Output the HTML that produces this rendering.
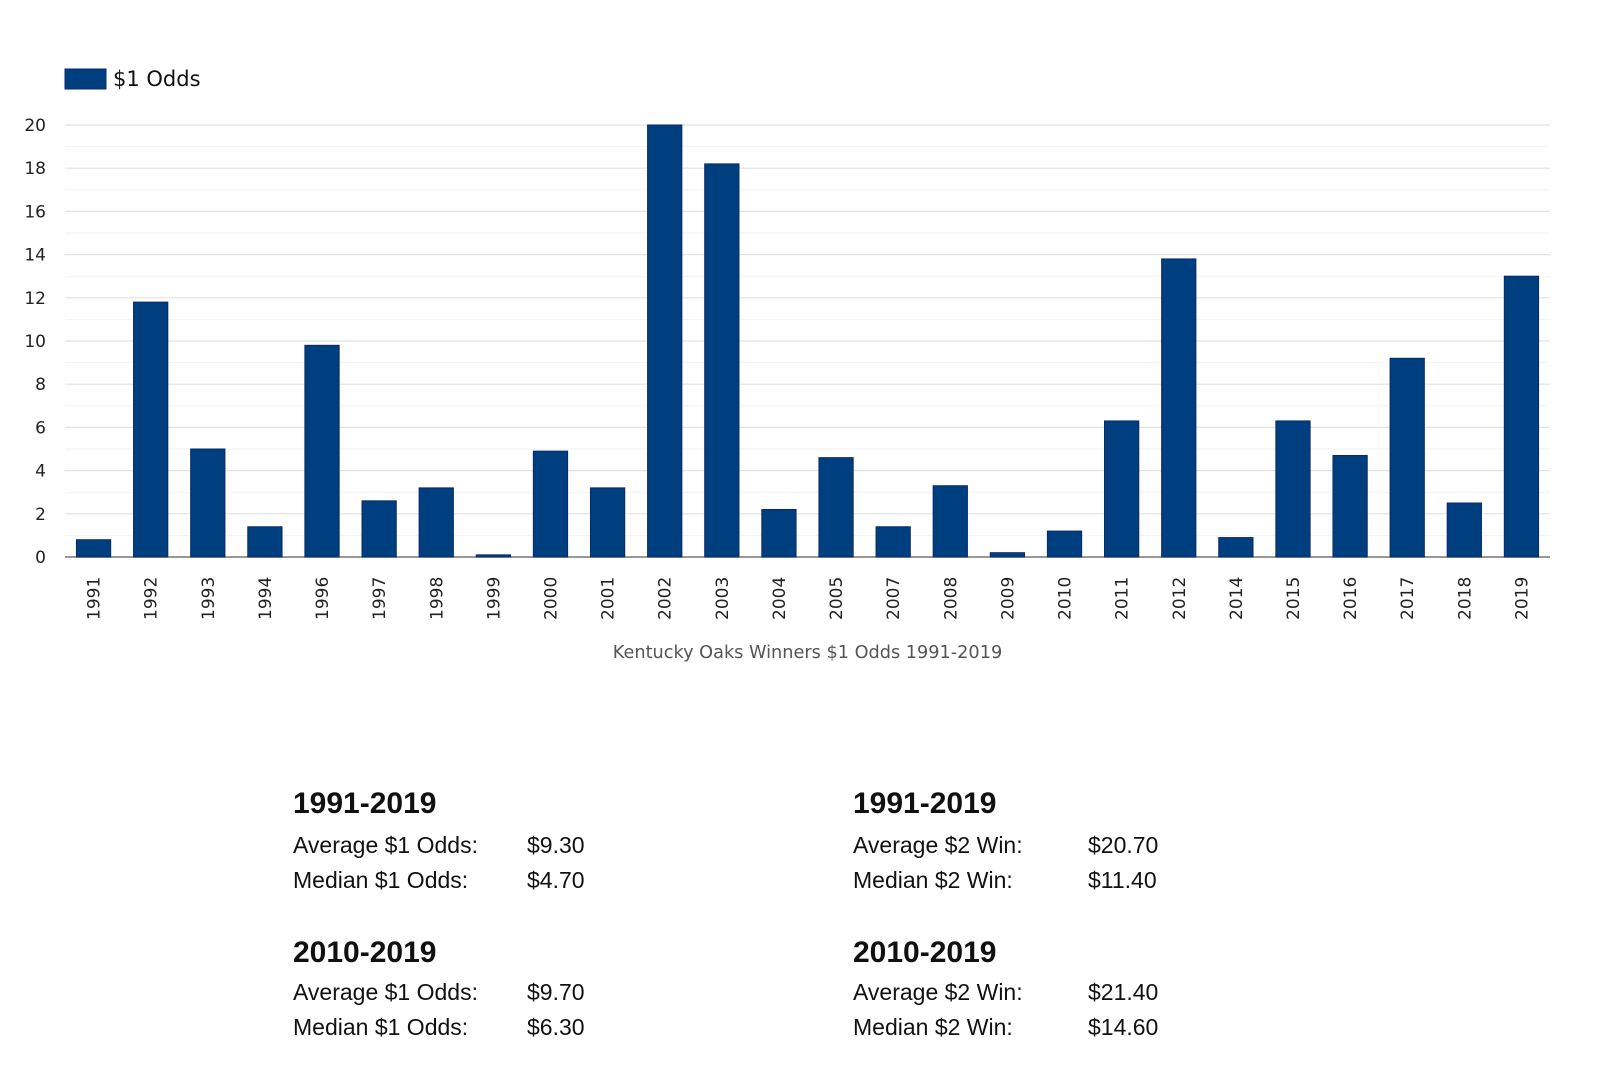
<!DOCTYPE html>
<html><head><meta charset="utf-8"><style>
body{margin:0;width:1600px;height:1082px;background:#fff;font-family:"Liberation Sans",sans-serif;overflow:hidden;position:relative}
.h{position:absolute;font-weight:bold;font-size:30px;color:#111}
.t{position:absolute;font-size:23px;color:#111}
</style></head><body>
<svg id="chart" width="1600" height="700" style="position:absolute;left:0;top:0"></svg>
<div class="h" style="left:293px;top:787px">1991-2019</div>
<div class="t" style="left:293px;top:832px">Average $1 Odds:</div>
<div class="t" style="left:527px;top:832px">$9.30</div>
<div class="t" style="left:293px;top:867px">Median $1 Odds:</div>
<div class="t" style="left:527px;top:867px">$4.70</div>
<div class="h" style="left:853px;top:787px">1991-2019</div>
<div class="t" style="left:853px;top:832px">Average $2 Win:</div>
<div class="t" style="left:1088px;top:832px">$20.70</div>
<div class="t" style="left:853px;top:867px">Median $2 Win:</div>
<div class="t" style="left:1088px;top:867px">$11.40</div>
<div class="h" style="left:293px;top:936px">2010-2019</div>
<div class="t" style="left:293px;top:979px">Average $1 Odds:</div>
<div class="t" style="left:527px;top:979px">$9.70</div>
<div class="t" style="left:293px;top:1014px">Median $1 Odds:</div>
<div class="t" style="left:527px;top:1014px">$6.30</div>
<div class="h" style="left:853px;top:936px">2010-2019</div>
<div class="t" style="left:853px;top:979px">Average $2 Win:</div>
<div class="t" style="left:1088px;top:979px">$21.40</div>
<div class="t" style="left:853px;top:1014px">Median $2 Win:</div>
<div class="t" style="left:1088px;top:1014px">$14.60</div>
<script>
const years=["1991","1992","1993","1994","1996","1997","1998","1999","2000","2001","2002","2003","2004","2005","2007","2008","2009","2010","2011","2012","2014","2015","2016","2017","2018","2019"];
const odds=[0.8,11.8,5.0,1.4,9.8,2.6,3.2,0.1,4.9,3.2,20,18.2,2.2,4.6,1.4,3.3,0.2,1.2,6.3,13.8,0.9,6.3,4.7,9.2,2.5,13.0];
const yTicks=[0,2,4,6,8,10,12,14,16,18,20];
const svg=document.getElementById('chart');const NS='http://www.w3.org/2000/svg';
const X0=65,X1=1550,Y0=557,Y1=125,YMAX=20;
const band=(X1-X0)/years.length;
const y=v=>Y0-(v/YMAX)*(Y0-Y1);
const x=i=>X0+i*band;
function mk(t,a,txt){const e=document.createElementNS(NS,t);for(const k in a)e.setAttribute(k,a[k]);if(txt!=null)e.textContent=txt;svg.appendChild(e);return e;}
yTicks.forEach(v=>{
  const g=mk('line',{x1:X0,x2:X1,y1:y(v),y2:y(v),stroke:v===0?'#777':'#e2e2e2','stroke-width':v===0?1.5:1.2});
  
  
  if(v>0){const m=mk('line',{x1:X0,x2:X1,y1:(y(v)+y(v-2))/2,y2:(y(v)+y(v-2))/2,stroke:'#f2f2f2','stroke-width':1});
  
  }
  const l=mk('text',{x:46,y:y(v)+6,'text-anchor':'end','font-size':17,fill:'#222','font-family':'DejaVu Sans, sans-serif'},v);
  
  
});
odds.forEach((v,i)=>{
  const bw=band*0.6;const cx=x(i)+band/2;
  const r=mk('rect',{x:cx-bw/2,y:y(v),width:bw,height:Y0-y(v),fill:'#003f7f',stroke:'#0a2a6a','stroke-width':1});
  
  
  const t=mk('text',{transform:`translate(${cx+6},${620}) rotate(-90)`,'font-size':17,fill:'#222','font-family':'DejaVu Sans, sans-serif'},years[i]);
  
  
});
const lb=mk('rect',{x:65,y:69,width:41,height:20,fill:'#003f7f',stroke:'#0a2a6a'});


const lt=mk('text',{x:113,y:86,'font-size':21,fill:'#111','font-family':'DejaVu Sans, sans-serif'},'$1 Odds');


const xt=mk('text',{x:(X0+X1)/2,y:658,'text-anchor':'middle','font-size':17.7,fill:'#555','font-family':'DejaVu Sans, sans-serif'},'Kentucky Oaks Winners $1 Odds 1991-2019');


</script>
</body></html>
